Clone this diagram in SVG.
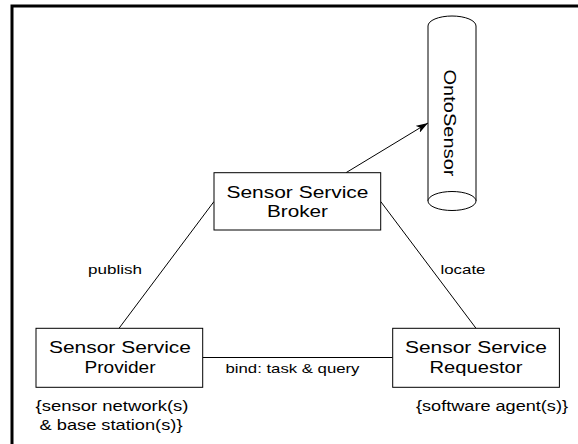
<svg xmlns="http://www.w3.org/2000/svg" width="578" height="444" viewBox="0 0 578 444">
  <style>
    .box { fill: #fff; stroke: #000; stroke-width: 1; }
    .edge { fill: none; stroke: #000; stroke-width: 1; }
    .t { font-family: "Liberation Sans", Arial, sans-serif; fill: #000; text-anchor: middle; }
    .big { font-size: 16px; }
    .mid { font-size: 14px; }
    .small { font-size: 13px; }
  </style>
  <defs>
    <marker id="arrow" viewBox="0 0 12 8" refX="12" refY="4" markerWidth="12" markerHeight="8" markerUnits="userSpaceOnUse" orient="auto">
      <path d="M0,0 L12,4 L0,8 L3,4 Z" fill="#000"/>
    </marker>
  </defs>
  <rect width="578" height="444" fill="#fff"/>
  <!-- outer frame -->
  <rect x="12" y="6" width="600" height="460" fill="none" stroke="#000" stroke-width="3"/>

  <g id="connectors">
    <line class="edge" x1="119" y1="328.3" x2="214" y2="201.5"/>
    <line class="edge" x1="380.7" y1="201.5" x2="476" y2="328.3"/>
    <line class="edge" x1="202.7" y1="357.5" x2="392.7" y2="357.5"/>
    <line class="edge" x1="346" y1="172.7" x2="428" y2="123" marker-end="url(#arrow)"/>
    <text class="t small" x="115" y="274" textLength="54" lengthAdjust="spacingAndGlyphs">publish</text>
    <text class="t small" x="463" y="274" textLength="45" lengthAdjust="spacingAndGlyphs">locate</text>
    <text class="t small" x="292.5" y="373.3" textLength="134" lengthAdjust="spacingAndGlyphs">bind: task &amp; query</text>
  </g>

  <g id="ontosensor">
    <path class="edge" d="M428,26 A24,10 0 0 1 476,26 V201 M428,26 V201"/>
    <ellipse cx="452" cy="201" rx="24" ry="9.5" fill="#fff" stroke="#000" stroke-width="1"/>
    <text class="t big" transform="translate(444,123) rotate(90)" x="0" y="0" textLength="107" lengthAdjust="spacingAndGlyphs">OntoSensor</text>
  </g>

  <g id="broker">
    <rect class="box" x="214" y="172.7" width="166.7" height="57.3"/>
    <text class="t big" x="297.5" y="197.7" textLength="142" lengthAdjust="spacingAndGlyphs">Sensor Service</text>
    <text class="t big" x="297.5" y="216.7" textLength="61" lengthAdjust="spacingAndGlyphs">Broker</text>
  </g>

  <g id="provider">
    <rect class="box" x="36" y="328.3" width="166.7" height="59"/>
    <text class="t big" x="120" y="353" textLength="142" lengthAdjust="spacingAndGlyphs">Sensor Service</text>
    <text class="t big" x="120" y="372.5" textLength="71" lengthAdjust="spacingAndGlyphs">Provider</text>
    <text class="t mid" x="112" y="411" textLength="153" lengthAdjust="spacingAndGlyphs">{sensor network(s)</text>
    <text class="t mid" x="111" y="430" textLength="143" lengthAdjust="spacingAndGlyphs">&amp; base station(s)}</text>
  </g>

  <g id="requestor">
    <rect class="box" x="392.7" y="328.3" width="166.7" height="59"/>
    <text class="t big" x="476" y="353" textLength="142" lengthAdjust="spacingAndGlyphs">Sensor Service</text>
    <text class="t big" x="476" y="372.5" textLength="93" lengthAdjust="spacingAndGlyphs">Requestor</text>
    <text class="t mid" x="492" y="411" textLength="152" lengthAdjust="spacingAndGlyphs">{software agent(s)}</text>
  </g>
</svg>
